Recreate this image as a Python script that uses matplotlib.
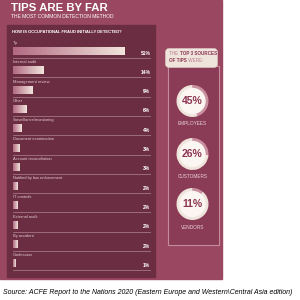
import numpy as np
import matplotlib
matplotlib.use("Agg")
import matplotlib.pyplot as plt
from matplotlib.patches import Rectangle, FancyBboxPatch
from matplotlib.colors import LinearSegmentedColormap

# data
methods = ["Tip", "Internal audit", "Management review", "Other", "Surveillance/monitoring",
           "Document examination", "Account reconciliation", "Notified by law enforcement",
           "IT controls", "External audit", "By accident", "Confession"]
shares = [51, 14, 9, 6, 4, 3, 3, 2, 2, 2, 2, 1]
sources = ["EMPLOYEES", "CUSTOMERS", "VENDORS"]
source_pct = [45, 26, 11]

POSTER = "#9a4862"
PANEL = "#6b2d41"
INNER = "#8a3b56"
CREAM = "#efe4dc"
MAROON = "#8c3552"

plt.rcParams['font.family'] = ['Liberation Sans', 'DejaVu Sans']

fig = plt.figure(figsize=(3, 3), dpi=100)
fig.patch.set_facecolor("white")

# background axes in pixel coords
bg = fig.add_axes([0, 0, 1, 1])
bg.set_xlim(0, 300)
bg.set_ylim(300, 0)
bg.axis("off")

bg.add_patch(Rectangle((0, 0), 222, 279, color=POSTER, zorder=0))
bg.add_patch(Rectangle((7, 25), 148, 252, color=PANEL, zorder=1))
bg.add_patch(Rectangle((168, 66), 51, 179, facecolor=INNER, edgecolor="#c58c9d", lw=0.8, zorder=1))
bg.add_patch(FancyBboxPatch((166, 49), 51, 18, boxstyle="round,pad=0,rounding_size=3",
                            color=CREAM, zorder=2))

bg.text(11, 8, "TIPS ARE BY FAR", color="white", fontsize=8.2, fontweight="bold",
        va="center", ha="left")
bg.text(11, 17, "THE MOST COMMON DETECTION METHOD", color="white", fontsize=3.6,
        va="center", ha="left")
bg.text(12, 32, "HOW IS OCCUPATIONAL FRAUD INITIALLY DETECTED?", color="white", fontsize=3.0,
        fontweight="bold", va="center", ha="left")

# top 3 box text, mixed weights
t1 = bg.text(169, 53.5, "THE ", color="#b97a8d", fontsize=3.3, va="center", ha="left", zorder=3)
bg.annotate("TOP 3 SOURCES", xy=(1, 0.5), xycoords=t1, va="center", ha="left",
            color=MAROON, fontsize=3.3, fontweight="bold", zorder=3)
t2 = bg.text(169, 60, "OF TIPS", color=MAROON, fontsize=3.3, fontweight="bold",
             va="center", ha="left", zorder=3)
bg.annotate(" WERE:", xy=(1, 0.5), xycoords=t2, va="center", ha="left",
            color="#b97a8d", fontsize=3.3, zorder=3)

bg.text(3, 292, "Source: ACFE Report to the Nations 2020 (Eastern Europe and Western\\Central Asia edition)",
        color="black", fontsize=5.0, style="italic", va="center", ha="left")

# bar chart
ax = fig.add_axes([13 / 300, 1 - 275.4 / 300, 138 / 300, 241.3 / 300])
ax.axis("off")
cmap = LinearSegmentedColormap.from_list("bar", ["#b26a82", "#f1e4dc"])
grad = np.linspace(0, 1, 64).reshape(1, -1)
h = 0.37
xmax = 63.3
for i, (name, v) in enumerate(zip(methods, shares)):
    ax.imshow(grad, cmap=cmap, extent=[0, v, i + h / 2, i - h / 2], aspect="auto", zorder=2)
    ax.text(0, i - 0.44, name, color="#e6cdd5", fontsize=2.9, va="center", ha="left")
    ax.text(xmax - 0.3, i + 0.08, f"{v}%", color="white", fontsize=3.6, fontweight="bold",
            va="center", ha="right")
    ax.plot([0, xmax], [i + 0.34, i + 0.34], color="#a47683", lw=0.6, zorder=1)
ax.set_xlim(0, xmax)
ax.set_ylim(11.6, -0.9)

# donuts
centers = [101, 154, 204]
label_y = [123.5, 176.5, 227.5]
r = 16
for pct, name, cy, ly in zip(source_pct, sources, centers, label_y):
    dax = fig.add_axes([(192.5 - r) / 300, 1 - (cy + r) / 300, 2 * r / 300, 2 * r / 300])
    dax.pie([pct, 100 - pct], colors=["#c9909f", CREAM], startangle=90, counterclock=False,
            radius=1, wedgeprops=dict(width=0.22, linewidth=0))
    dax.add_patch(plt.Circle((0, 0), 0.78, color="#fbf6f2"))
    dax.text(0, -0.02, f"{pct}%", color=MAROON, fontsize=7.5, fontweight="bold",
             ha="center", va="center")
    dax.set_xlim(-1, 1)
    dax.set_ylim(-1, 1)
    dax.set_aspect("equal")
    dax.axis("off")
    bg.text(192.5, ly, name, color="#ecd3db", fontsize=3.4, ha="center", va="center", zorder=3)

fig.savefig("out.png", dpi=100, facecolor="white")
